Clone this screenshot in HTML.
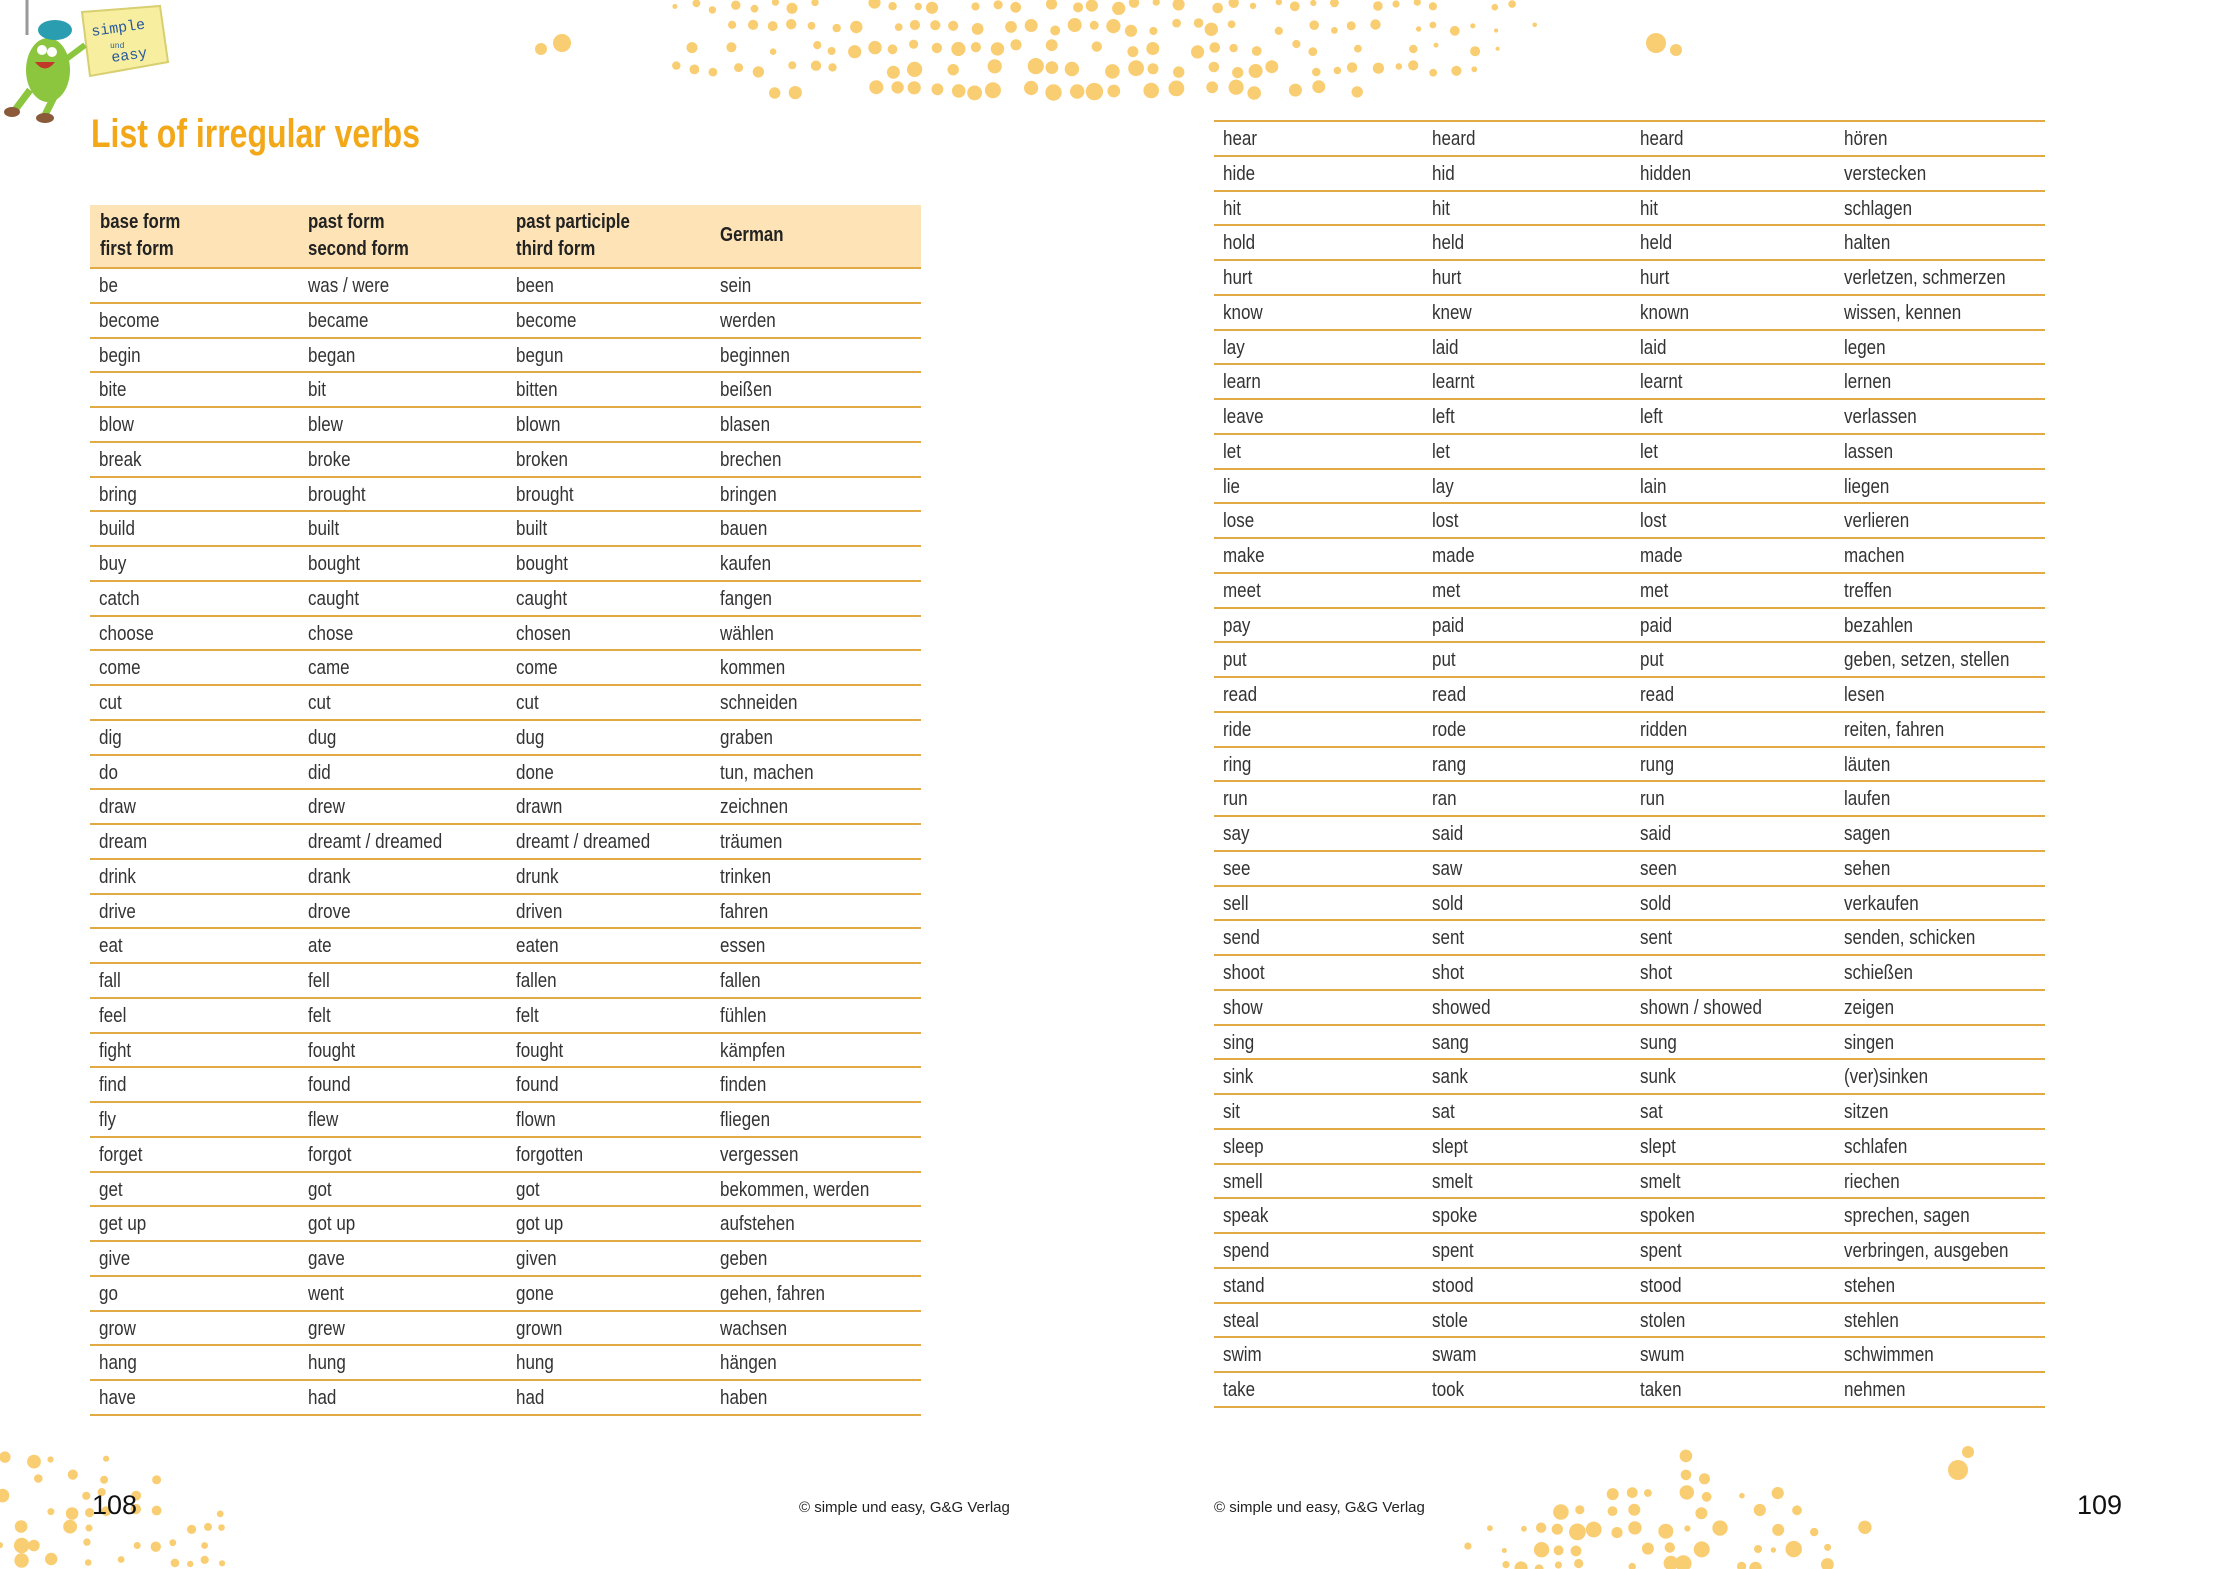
<!DOCTYPE html>
<html><head><meta charset="utf-8">
<style>
html,body{margin:0;padding:0;}
body{width:2218px;height:1569px;position:relative;background:#fff;overflow:hidden;font-family:"Liberation Sans Narrow","Liberation Sans",sans-serif;color:#333;}
#bg{position:absolute;left:0;top:0;}
.title{position:absolute;left:91px;top:112px;font-size:40px;font-weight:bold;color:#f2a818;white-space:nowrap;transform:scaleX(0.8);transform-origin:left top;}
.tbl{position:absolute;}
.hdr{background:#fde3b5;height:62px;border-bottom:2px solid #e2aa45;position:relative;font-weight:bold;font-size:20px;color:#222;}
.hdr div{position:absolute;line-height:27px;transform:scaleX(0.84);transform-origin:left center;white-space:nowrap;}
.r{height:32.75px;border-bottom:2px solid #e2aa45;position:relative;font-size:20px;}
.r span{position:absolute;top:1px;line-height:33px;white-space:nowrap;transform:scaleX(0.85);transform-origin:left center;}
.r span:nth-child(1){left:9px}.r span:nth-child(2){left:218px}.r span:nth-child(3){left:426px}.r span:nth-child(4){left:630px}
.foot{position:absolute;font-size:15px;white-space:nowrap;color:#222;}
.pg{position:absolute;font-size:27px;top:1490px;color:#111;}
</style></head><body>
<svg id="bg" width="2218" height="1569"></svg>
<svg style="position:absolute;left:0;top:0" width="180" height="130">
<line x1="27" y1="0" x2="27" y2="35" stroke="#999" stroke-width="3"/>
<polygon points="82,12 160,6 168,62 90,76" fill="#f7eea0" stroke="#d8cf70" stroke-width="2"/>
<text x="92" y="36" font-family="Liberation Mono" font-size="15" fill="#2a5a9a" transform="rotate(-8 92 36)">simple</text>
<text x="110" y="48" font-family="Liberation Mono" font-size="8" fill="#2a5a9a">und</text>
<text x="112" y="62" font-family="Liberation Mono" font-size="15" fill="#2a5a9a" transform="rotate(-8 112 62)">easy</text>
<ellipse cx="48" cy="70" rx="22" ry="32" fill="#8cc63f"/>
<ellipse cx="55" cy="30" rx="17" ry="10" fill="#2a9db0"/>
<circle cx="42" cy="50" r="5" fill="#fff"/><circle cx="52" cy="52" r="5" fill="#fff"/>
<path d="M35 62 Q45 75 55 62 Z" fill="#c0392b"/>
<line x1="30" y1="90" x2="15" y2="110" stroke="#8cc63f" stroke-width="7"/>
<line x1="55" y1="95" x2="45" y2="115" stroke="#8cc63f" stroke-width="7"/>
<ellipse cx="12" cy="112" rx="8" ry="5" fill="#8a5a3a"/><ellipse cx="45" cy="118" rx="9" ry="5" fill="#8a5a3a"/>
<line x1="65" y1="60" x2="85" y2="45" stroke="#8cc63f" stroke-width="6"/>
</svg>
<div class="title">List of irregular verbs</div>

<div class="tbl" style="left:90px;top:205px;width:831px;">
<div class="hdr"><div style="left:10px;top:4px">base form<br>first form</div><div style="left:218px;top:4px">past form<br>second form</div><div style="left:426px;top:4px">past participle<br>third form</div><div style="left:630px;top:17px">German</div></div>
<div class="r"><span>be</span><span>was / were</span><span>been</span><span>sein</span></div>
<div class="r"><span>become</span><span>became</span><span>become</span><span>werden</span></div>
<div class="r"><span>begin</span><span>began</span><span>begun</span><span>beginnen</span></div>
<div class="r"><span>bite</span><span>bit</span><span>bitten</span><span>beißen</span></div>
<div class="r"><span>blow</span><span>blew</span><span>blown</span><span>blasen</span></div>
<div class="r"><span>break</span><span>broke</span><span>broken</span><span>brechen</span></div>
<div class="r"><span>bring</span><span>brought</span><span>brought</span><span>bringen</span></div>
<div class="r"><span>build</span><span>built</span><span>built</span><span>bauen</span></div>
<div class="r"><span>buy</span><span>bought</span><span>bought</span><span>kaufen</span></div>
<div class="r"><span>catch</span><span>caught</span><span>caught</span><span>fangen</span></div>
<div class="r"><span>choose</span><span>chose</span><span>chosen</span><span>wählen</span></div>
<div class="r"><span>come</span><span>came</span><span>come</span><span>kommen</span></div>
<div class="r"><span>cut</span><span>cut</span><span>cut</span><span>schneiden</span></div>
<div class="r"><span>dig</span><span>dug</span><span>dug</span><span>graben</span></div>
<div class="r"><span>do</span><span>did</span><span>done</span><span>tun, machen</span></div>
<div class="r"><span>draw</span><span>drew</span><span>drawn</span><span>zeichnen</span></div>
<div class="r"><span>dream</span><span>dreamt / dreamed</span><span>dreamt / dreamed</span><span>träumen</span></div>
<div class="r"><span>drink</span><span>drank</span><span>drunk</span><span>trinken</span></div>
<div class="r"><span>drive</span><span>drove</span><span>driven</span><span>fahren</span></div>
<div class="r"><span>eat</span><span>ate</span><span>eaten</span><span>essen</span></div>
<div class="r"><span>fall</span><span>fell</span><span>fallen</span><span>fallen</span></div>
<div class="r"><span>feel</span><span>felt</span><span>felt</span><span>fühlen</span></div>
<div class="r"><span>fight</span><span>fought</span><span>fought</span><span>kämpfen</span></div>
<div class="r"><span>find</span><span>found</span><span>found</span><span>finden</span></div>
<div class="r"><span>fly</span><span>flew</span><span>flown</span><span>fliegen</span></div>
<div class="r"><span>forget</span><span>forgot</span><span>forgotten</span><span>vergessen</span></div>
<div class="r"><span>get</span><span>got</span><span>got</span><span>bekommen, werden</span></div>
<div class="r"><span>get up</span><span>got up</span><span>got up</span><span>aufstehen</span></div>
<div class="r"><span>give</span><span>gave</span><span>given</span><span>geben</span></div>
<div class="r"><span>go</span><span>went</span><span>gone</span><span>gehen, fahren</span></div>
<div class="r"><span>grow</span><span>grew</span><span>grown</span><span>wachsen</span></div>
<div class="r"><span>hang</span><span>hung</span><span>hung</span><span>hängen</span></div>
<div class="r"><span>have</span><span>had</span><span>had</span><span>haben</span></div>
</div>

<div class="tbl" style="left:1214px;top:120px;width:831px;border-top:2px solid #e2aa45;">
<div class="r"><span>hear</span><span>heard</span><span>heard</span><span>hören</span></div>
<div class="r"><span>hide</span><span>hid</span><span>hidden</span><span>verstecken</span></div>
<div class="r"><span>hit</span><span>hit</span><span>hit</span><span>schlagen</span></div>
<div class="r"><span>hold</span><span>held</span><span>held</span><span>halten</span></div>
<div class="r"><span>hurt</span><span>hurt</span><span>hurt</span><span>verletzen, schmerzen</span></div>
<div class="r"><span>know</span><span>knew</span><span>known</span><span>wissen, kennen</span></div>
<div class="r"><span>lay</span><span>laid</span><span>laid</span><span>legen</span></div>
<div class="r"><span>learn</span><span>learnt</span><span>learnt</span><span>lernen</span></div>
<div class="r"><span>leave</span><span>left</span><span>left</span><span>verlassen</span></div>
<div class="r"><span>let</span><span>let</span><span>let</span><span>lassen</span></div>
<div class="r"><span>lie</span><span>lay</span><span>lain</span><span>liegen</span></div>
<div class="r"><span>lose</span><span>lost</span><span>lost</span><span>verlieren</span></div>
<div class="r"><span>make</span><span>made</span><span>made</span><span>machen</span></div>
<div class="r"><span>meet</span><span>met</span><span>met</span><span>treffen</span></div>
<div class="r"><span>pay</span><span>paid</span><span>paid</span><span>bezahlen</span></div>
<div class="r"><span>put</span><span>put</span><span>put</span><span>geben, setzen, stellen</span></div>
<div class="r"><span>read</span><span>read</span><span>read</span><span>lesen</span></div>
<div class="r"><span>ride</span><span>rode</span><span>ridden</span><span>reiten, fahren</span></div>
<div class="r"><span>ring</span><span>rang</span><span>rung</span><span>läuten</span></div>
<div class="r"><span>run</span><span>ran</span><span>run</span><span>laufen</span></div>
<div class="r"><span>say</span><span>said</span><span>said</span><span>sagen</span></div>
<div class="r"><span>see</span><span>saw</span><span>seen</span><span>sehen</span></div>
<div class="r"><span>sell</span><span>sold</span><span>sold</span><span>verkaufen</span></div>
<div class="r"><span>send</span><span>sent</span><span>sent</span><span>senden, schicken</span></div>
<div class="r"><span>shoot</span><span>shot</span><span>shot</span><span>schießen</span></div>
<div class="r"><span>show</span><span>showed</span><span>shown / showed</span><span>zeigen</span></div>
<div class="r"><span>sing</span><span>sang</span><span>sung</span><span>singen</span></div>
<div class="r"><span>sink</span><span>sank</span><span>sunk</span><span>(ver)sinken</span></div>
<div class="r"><span>sit</span><span>sat</span><span>sat</span><span>sitzen</span></div>
<div class="r"><span>sleep</span><span>slept</span><span>slept</span><span>schlafen</span></div>
<div class="r"><span>smell</span><span>smelt</span><span>smelt</span><span>riechen</span></div>
<div class="r"><span>speak</span><span>spoke</span><span>spoken</span><span>sprechen, sagen</span></div>
<div class="r"><span>spend</span><span>spent</span><span>spent</span><span>verbringen, ausgeben</span></div>
<div class="r"><span>stand</span><span>stood</span><span>stood</span><span>stehen</span></div>
<div class="r"><span>steal</span><span>stole</span><span>stolen</span><span>stehlen</span></div>
<div class="r"><span>swim</span><span>swam</span><span>swum</span><span>schwimmen</span></div>
<div class="r"><span>take</span><span>took</span><span>taken</span><span>nehmen</span></div>
</div>

<div class="pg" style="left:92px">108</div>
<div class="pg" style="left:2077px">109</div>
<div class="foot" style="left:799px;top:1499px">© simple und easy, G&amp;G Verlag</div>
<div class="foot" style="left:1214px;top:1499px">© simple und easy, G&amp;G Verlag</div>

<script>
(function(){
var s=document.getElementById('bg'),seed=7;
function rnd(){seed=(seed*9301+49297)%233280;return seed/233280;}
var out='';
function c(x,y,r){out+='<circle cx="'+x.toFixed(1)+'" cy="'+y.toFixed(1)+'" r="'+r.toFixed(1)+'" fill="#f9cd72"/>';}
for(var x=675;x<1570;x+=20){
  var d=Math.abs(x-1060)/480; var maxy=110-d*d*50;
  for(var y=6;y<maxy;y+=21){
    var jx=x+(rnd()-0.5)*8, jy=y+(rnd()-0.5)*8;
    var big=1-Math.abs(x-1050)/500;
    var r=1.5+rnd()*3+big*6*(0.4+0.6*y/110);
    if(rnd()<0.75)c(jx,jy,r);
  }
}
c(541,49,6);c(562,43,9);c(1656,43,10);c(1676,50,6);
for(var x=2;x<240;x+=17){for(var y=1460;y<1569;y+=17){
  var lim=1569-(240-x)*0.5; if(y<lim-60+rnd()*30)continue;
  if(rnd()<0.6)c(x+(rnd()-0.5)*6,y+(rnd()-0.5)*6,3+rnd()*6*(1-x/260));}}
for(var x=1470;x<1880;x+=18){for(var y=1440;y<1569;y+=18){
  var d=Math.abs(x-1680)/210; if(y<1450+d*80+rnd()*30)continue;
  if(rnd()<0.5)c(x+(rnd()-0.5)*6,y+(rnd()-0.5)*6,2.5+rnd()*6);}}
c(1958,1470,10);c(1968,1452,6);
s.innerHTML=out;
})();
</script>
</body></html>
